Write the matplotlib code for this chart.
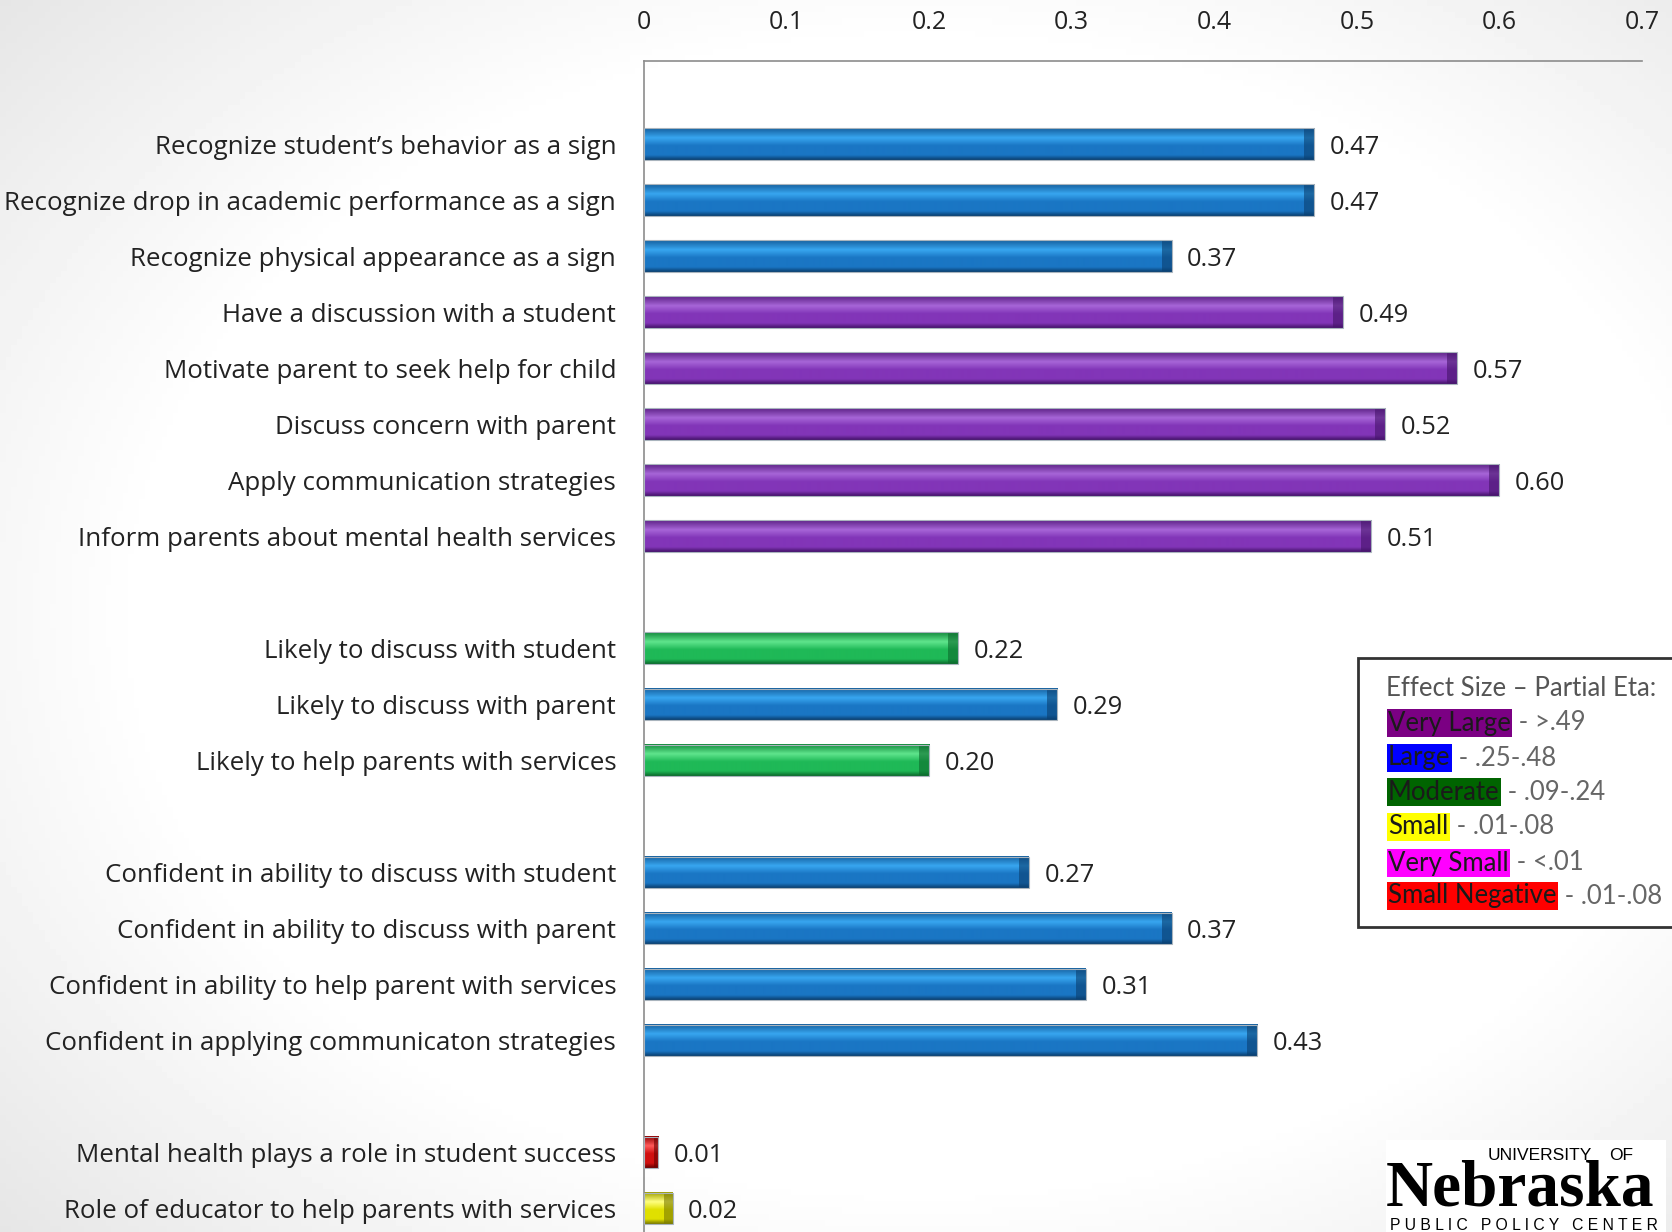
import numpy as np
import matplotlib.pyplot as plt
from matplotlib.patches import Rectangle
from matplotlib.colors import LinearSegmentedColormap

plt.rcParams['font.family'] = ['Open Sans', 'DejaVu Sans']

categories = [
    "Recognize student\u2019s behavior as a sign",
    "Recognize drop in academic performance as a sign",
    "Recognize physical appearance as a sign",
    "Have a discussion with a student",
    "Motivate parent to seek help for child",
    "Discuss concern with parent",
    "Apply communication strategies",
    "Inform parents about mental health services",
    "Likely to discuss with student",
    "Likely to discuss with parent",
    "Likely to help parents with services",
    "Confident in ability to discuss with student",
    "Confident in ability to discuss with parent",
    "Confident in ability to help parent with services",
    "Confident in applying communicaton strategies",
    "Mental health plays a role in student success",
    "Role of educator to help parents with services",
]
values = [0.47, 0.47, 0.37, 0.49, 0.57, 0.52, 0.60, 0.51,
          0.22, 0.29, 0.20,
          0.27, 0.37, 0.31, 0.43,
          0.01, 0.02]
effect = ["large", "large", "large", "very_large", "very_large", "very_large",
          "very_large", "very_large",
          "moderate", "large", "moderate",
          "large", "large", "large", "large",
          "small_neg", "small"]
# groups are separated by an empty row
slots = [0, 1, 2, 3, 4, 5, 6, 7, 9, 10, 11, 13, 14, 15, 16, 18, 19]

legend_labels = ["Very Large", "Large", "Moderate", "Small", "Very Small", "Small Negative"]
legend_ranges = [" - >.49", " - .25-.48", " - .09-.24", " - .01-.08", " - <.01", " - .01-.08"]
legend_colors = ["#7b0083", "#0000ff", "#006400", "#ffff00", "#ff00ff", "#ff0000"]

# top edge, highlight, body, bottom edge
shades = {
    "large": ("#15609f", "#38a6f0", "#1a76c4", "#0a3f70"),
    "very_large": ("#5e2287", "#a766d8", "#8235b8", "#45136a"),
    "moderate": ("#138a3c", "#5fe58d", "#1fb957", "#0b6a2c"),
    "small": ("#a0a000", "#ffff80", "#e0e000", "#7a7a00"),
    "small_neg": ("#900000", "#ff5a5a", "#d01010", "#6a0000"),
}

W, H = 1672, 1232
fig = plt.figure(figsize=(W / 100, H / 100), dpi=100)

# soft grey vignette behind everything
bg = fig.add_axes([0, 0, 1, 1], zorder=-5)
yy, xx = np.mgrid[0:1:200j, 0:1:300j]
r = np.sqrt(((xx - 0.55) / 0.62) ** 2 + ((yy - 0.5) / 0.62) ** 2)
shade = 1 - 0.11 * np.clip((r - 0.75) / 0.5, 0, 1)
bg.imshow(shade, cmap='gray', vmin=0, vmax=1, aspect='auto', extent=[0, 1, 0, 1])
bg.axis('off')

ax = fig.add_axes([644 / W, 0, 998 / W, 1 - 61 / H])
ax.patch.set_alpha(0)

bh = 0.57
grad = np.linspace(0, 1, 64).reshape(-1, 1)
for s, v, e in zip(slots, values, effect):
    top, light, body, bottom = shades[e]
    cmap = LinearSegmentedColormap.from_list(
        e, [(0, top), (0.3, light), (0.55, body), (0.85, body), (1, bottom)])
    ax.imshow(grad, cmap=cmap, aspect='auto', interpolation='bilinear',
              extent=[0, v, s + bh / 2, s - bh / 2], zorder=2)
    endw = min(0.007, v * 0.3)
    ax.add_patch(Rectangle((v - endw, s - bh / 2), endw, bh, facecolor=bottom,
                           alpha=0.6, edgecolor='none', zorder=3))
    ax.add_patch(Rectangle((0, s - bh / 2), v, bh, facecolor='none',
                           edgecolor='#a9b4bd', linewidth=0.8, zorder=4))
    ax.text(v + 0.011, s, f"{v:.2f}", va='center_baseline', ha='left',
            fontsize=18.3, color='#222222')

ax.set_xlim(0, 0.7)
ax.set_ylim(19.42, -1.49)
ax.set_yticks(slots)
ax.set_yticklabels(categories, fontsize=18.6, color='#222222')
ax.tick_params(axis='y', length=0, pad=20)
ax.xaxis.tick_top()
ax.set_xticks(np.arange(0, 0.71, 0.1))
ax.set_xticklabels(['0', '0.1', '0.2', '0.3', '0.4', '0.5', '0.6', '0.7'])
ax.tick_params(axis='x', length=0, pad=19, labelsize=18, labelcolor='#222222')
for sp in ['right', 'bottom']:
    ax.spines[sp].set_visible(False)
ax.spines['top'].set_color('#8c8c8c')
ax.spines['left'].set_color('#8c8c8c')
ax.spines['top'].set_linewidth(1.2)
ax.spines['left'].set_linewidth(1.2)

# overlay for legend and logo
ov = fig.add_axes([0, 0, 1, 1], zorder=10)
ov.set_xlim(0, W)
ov.set_ylim(H, 0)
ov.axis('off')
ov.patch.set_alpha(0)

lf = ['Lato', 'DejaVu Sans']
ov.add_patch(Rectangle((1358, 658), 330, 269, facecolor='white',
                       edgecolor='#333333', linewidth=2))
ov.text(1386, 688, "Effect Size \u2013 Partial Eta:", fontsize=18.5,
        color='#555555', va='center', ha='left', family=lf)
row_y = [723, 758, 792, 827, 863, 896]
for lab, rng, col, yp in zip(legend_labels, legend_ranges, legend_colors, row_y):
    t = ov.text(1388, yp, lab, fontsize=18.5, color='#1a1a1a', va='center',
                ha='left', family=lf,
                bbox=dict(facecolor=col, edgecolor='none', pad=1.0))
    ov.annotate(rng, xy=(1, 0.5), xycoords=t, xytext=(1, 0),
                textcoords='offset points', va='center', ha='left',
                fontsize=18.5, color='#666666', family=lf,
                annotation_clip=False)

# logo
ov.add_patch(Rectangle((1386, 1140), 280, 92, facecolor='white', edgecolor='none'))
ov.text(1386, 1206, "Nebraska", fontsize=47, family='Liberation Serif',
        fontweight='bold', color='black', va='baseline', ha='left')
ov.text(1488, 1160, "UNIVERSITY", fontsize=12.5, color='black',
        family='Liberation Sans', va='baseline', ha='left')
ov.text(1609, 1160, "OF", fontsize=12.5, color='black',
        family='Liberation Sans', va='baseline', ha='left')
ov.text(1390, 1230, "P U B L I C   P O L I C Y   C E N T E R",
        fontsize=11.3, color='black', family='Liberation Sans', va='baseline',
        ha='left')

fig.savefig('out.png', dpi=100)
